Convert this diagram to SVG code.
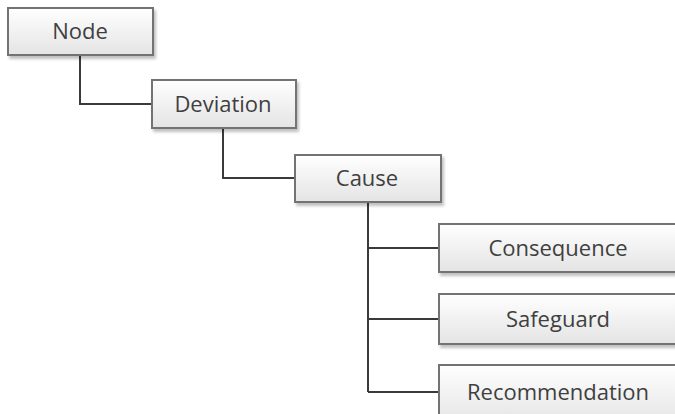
<svg xmlns="http://www.w3.org/2000/svg" width="675" height="414" viewBox="0 0 675 414">
  <defs>
    <linearGradient id="boxFill" x1="0" y1="0" x2="0" y2="1">
      <stop offset="0" stop-color="#ffffff"/>
      <stop offset="1" stop-color="#e4e4e4"/>
    </linearGradient>
    <filter id="shadow" x="-10%" y="-20%" width="130%" height="160%">
      <feGaussianBlur in="SourceAlpha" stdDeviation="1.5"/>
      <feOffset dx="2" dy="3" result="blur"/>
      <feComponentTransfer><feFuncA type="linear" slope="0.25"/></feComponentTransfer>
      <feMerge><feMergeNode/><feMergeNode in="SourceGraphic"/></feMerge>
    </filter>
  </defs>
  <style>
    .box { fill: url(#boxFill); stroke: #737373; stroke-width: 2; filter: url(#shadow); }
    .label { font-family: "Open Sans", "Noto Sans", sans-serif; font-size: 22px; fill: #3f3f3f; text-anchor: middle; }
    .wire { fill: none; stroke: #3a3a3a; stroke-width: 2; }
  </style>
  <rect width="675" height="414" fill="#ffffff"/>

  <g id="connectors">
    <polyline class="wire" points="80,55 80,104 152,104"/>
    <polyline class="wire" points="223,128 223,178 295,178"/>
    <polyline class="wire" points="368,202 368,392"/>
    <line class="wire" x1="368" y1="248" x2="439" y2="248"/>
    <line class="wire" x1="368" y1="319" x2="439" y2="319"/>
    <line class="wire" x1="368" y1="392" x2="439" y2="392"/>
  </g>

  <g id="node-node">
    <rect class="box" x="8" y="8" width="145" height="47"/>
    <text class="label" x="80" y="39">Node</text>
  </g>
  <g id="node-deviation">
    <rect class="box" x="152" y="80" width="144" height="48"/>
    <text class="label" x="223" y="112">Deviation</text>
  </g>
  <g id="node-cause">
    <rect class="box" x="295" y="155" width="146" height="47"/>
    <text class="label" x="367" y="186">Cause</text>
  </g>
  <g id="node-consequence">
    <rect class="box" x="439" y="224" width="250" height="48"/>
    <text class="label" x="558" y="256">Consequence</text>
  </g>
  <g id="node-safeguard">
    <rect class="box" x="439" y="294" width="250" height="50"/>
    <text class="label" x="558" y="327">Safeguard</text>
  </g>
  <g id="node-recommendation">
    <rect class="box" x="439" y="365" width="250" height="60"/>
    <text class="label" x="558" y="400">Recommendation</text>
  </g>
</svg>
